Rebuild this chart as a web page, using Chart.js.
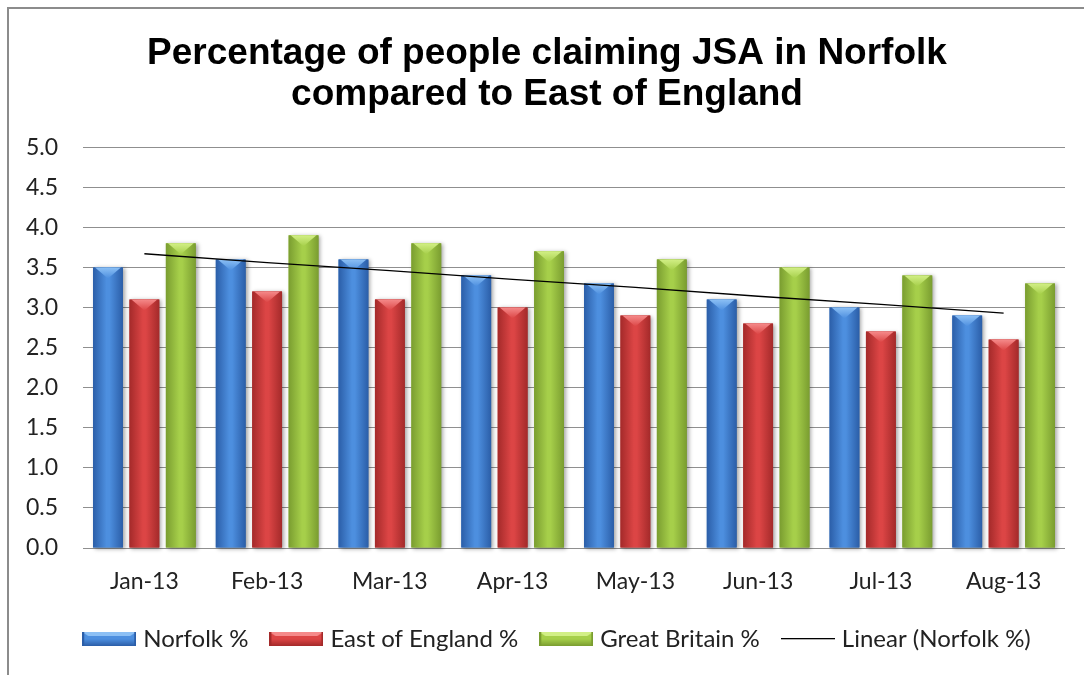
<!DOCTYPE html>
<html>
<head>
<meta charset="utf-8">
<script src="https://cdn.jsdelivr.net/npm/chart.js@4.4.0/dist/chart.umd.min.js"></script>
<style>
  html, body { margin: 0; padding: 0; background: #fff; }
  #wrap { width: 1084px; height: 675px; }
</style>
</head>
<body>
<div id="wrap"><canvas id="jsaChart" width="1084" height="675"></canvas></div>
<script>
// chart data
const months = ['Jan-13', 'Feb-13', 'Mar-13', 'Apr-13', 'May-13', 'Jun-13', 'Jul-13', 'Aug-13'];
const norfolk = [3.5, 3.6, 3.6, 3.4, 3.3, 3.1, 3.0, 2.9];
const eastEngland = [3.1, 3.2, 3.1, 3.0, 2.9, 2.8, 2.7, 2.6];
const greatBritain = [3.8, 3.9, 3.8, 3.7, 3.6, 3.5, 3.4, 3.3];
const norfolkTrend = [3.67, 3.56, 3.46, 3.35, 3.25, 3.14, 3.04, 2.93];
const yTicks = [0, 0.5, 1, 1.5, 2, 2.5, 3, 3.5, 4, 4.5, 5];

const FONT = 'Lato, "Open Sans", sans-serif';

// colours for the bevelled bars: edge, middle, light top facet
const palettes = [
    { edge: '#2b5ea8', mid: '#4d8fdf', top: '#8cc0f5' },
    { edge: '#a42a2a', mid: '#dc4545', top: '#f58a8a' },
    { edge: '#7a9d30', mid: '#a6cf4a', top: '#d2ef86' }
];

// legend swatch pictures
function barSwatch(p) {
    const c = document.createElement('canvas');
    c.width = 54; c.height = 14;
    const g = c.getContext('2d');
    const grad = g.createLinearGradient(0, 0, 0, 14);
    grad.addColorStop(0, p.mid);
    grad.addColorStop(0.5, p.mid);
    grad.addColorStop(1, p.edge);
    g.fillStyle = grad;
    g.fillRect(0, 0, 54, 14);
    g.fillStyle = p.top;
    g.beginPath();
    g.moveTo(0, 0); g.lineTo(54, 0); g.lineTo(48, 4); g.lineTo(6, 4);
    g.closePath(); g.fill();
    g.fillStyle = p.edge;
    g.fillRect(0, 0, 2, 14); g.fillRect(52, 0, 2, 14);
    return c;
}
function lineSwatch() {
    const c = document.createElement('canvas');
    c.width = 54; c.height = 2;
    const g = c.getContext('2d');
    g.fillStyle = '#000';
    g.fillRect(0, 0, 54, 1.3);
    return c;
}

const frame = {
    id: 'frame',
    beforeDraw(chart) {
        const ctx = chart.ctx;
        ctx.save();
        ctx.fillStyle = '#fff';
        ctx.fillRect(0, 0, chart.width, chart.height);
        ctx.strokeStyle = '#8c8c8c';
        ctx.lineWidth = 2;
        ctx.strokeRect(8, 8, chart.width + 20, chart.height + 20);
        ctx.restore();
    }
};

// nudge title and legend a little to the right, as in the original
const nudge = {
    id: 'nudge',
    afterLayout(chart) {
        chart.titleBlock.left += 11;
        chart.titleBlock.right += 11;
        chart.legend.left += 23;
        chart.legend.right += 23;
    }
};

// draw each bar as a shaded cylinder-like column
const bevel = {
    id: 'bevel',
    afterDatasetDraw(chart, args) {
        const ds = chart.data.datasets[args.index];
        if (ds.type === 'line') return;
        const p = palettes[args.index];
        const ctx = chart.ctx;
        args.meta.data.forEach(bar => {
            const { x, y, base, width } = bar.getProps(['x', 'y', 'base', 'width'], true);
            const l = x - width / 2, r = x + width / 2, h = base - y;
            ctx.save();
            ctx.shadowColor = 'rgba(0,0,0,0.35)';
            ctx.shadowBlur = 4;
            ctx.shadowOffsetX = 2;
            ctx.shadowOffsetY = 1;
            const g = ctx.createLinearGradient(l, 0, r, 0);
            g.addColorStop(0, p.edge);
            g.addColorStop(0.45, p.mid);
            g.addColorStop(0.55, p.mid);
            g.addColorStop(1, p.edge);
            ctx.fillStyle = g;
            ctx.fillRect(l, y, width, h);
            ctx.restore();
            ctx.save();
            const d = Math.min(11, h / 2);
            const tg = ctx.createLinearGradient(0, y, 0, y + d);
            tg.addColorStop(0, p.top);
            tg.addColorStop(1, p.mid);
            ctx.fillStyle = tg;
            ctx.beginPath();
            ctx.moveTo(l + 2, y); ctx.lineTo(r - 2, y); ctx.lineTo(x, y + d);
            ctx.closePath(); ctx.fill();
            ctx.restore();
        });
    }
};

const ctx = document.getElementById('jsaChart').getContext('2d');
const jsaChart = new Chart(ctx, {
    data: {
        labels: months,
        datasets: [
            { type: 'bar', label: 'Norfolk %', data: norfolk, backgroundColor: palettes[0].mid, order: 1 },
            { type: 'bar', label: 'East of England %', data: eastEngland, backgroundColor: palettes[1].mid, order: 1 },
            { type: 'bar', label: 'Great Britain %', data: greatBritain, backgroundColor: palettes[2].mid, order: 1 },
            { type: 'line', label: 'Linear (Norfolk %)', data: norfolkTrend, borderColor: '#000', borderWidth: 1.3,
              pointRadius: 0, fill: false, tension: 0, order: 0 }
        ]
    },
    options: {
        responsive: false,
        animation: false,
        devicePixelRatio: 1,
        barPercentage: 0.82,
        categoryPercentage: 0.89,
        layout: { padding: { left: 7, right: 19, top: 7, bottom: 14 } },
        plugins: {
            tooltip: { enabled: false },
            title: {
                display: true,
                text: ['Percentage of people claiming JSA in Norfolk', 'compared to East of England'],
                color: '#000',
                font: { family: '"Liberation Sans", Arial, sans-serif', size: 37, weight: 'bold', lineHeight: 1.11 },
                padding: { top: 26, bottom: 32 }
            },
            legend: {
                position: 'bottom',
                labels: {
                    color: '#222',
                    font: { family: FONT, size: 24 },
                    usePointStyle: true,
                    pointStyleWidth: 44,
                    padding: 26,
                    generateLabels(chart) {
                        return chart.data.datasets.map((ds, i) => ({
                            text: ds.label,
                            datasetIndex: i,
                            fontColor: '#222',
                            pointStyle: ds.type === 'line' ? lineSwatch() : barSwatch(palettes[i]),
                            hidden: false,
                            lineWidth: 0
                        }));
                    }
                }
            }
        },
        scales: {
            x: {
                grid: { display: false },
                border: { display: false },
                ticks: { color: '#222', font: { family: FONT, size: 23 }, padding: 12 },
                afterFit(scale) { scale.height = 53; }
            },
            y: {
                min: 0,
                max: 5,
                afterBuildTicks(scale) { scale.ticks = yTicks.map(v => ({ value: v })); },
                grid: { color: '#8f8f8f', lineWidth: 1, drawTicks: false },
                border: { display: false },
                ticks: {
                    color: '#222',
                    font: { family: FONT, size: 23 },
                    padding: 25,
                    callback: v => Number(v).toFixed(1)
                },
                afterFit(scale) { scale.width = 76; }
            }
        }
    },
    plugins: [frame, nudge, bevel]
});
</script>
</body>
</html>
